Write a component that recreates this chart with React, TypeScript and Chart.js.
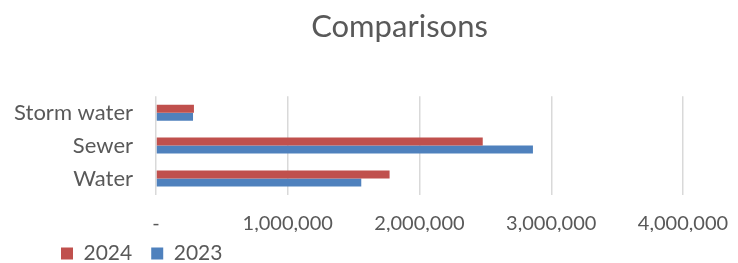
import React, { useEffect, useRef } from "react";
import { Chart, registerables } from "chart.js";

Chart.register(...registerables);

const categories = ["Storm water", "Sewer", "Water"];
const series2024 = [288000, 2480000, 1773000];
const series2023 = [281000, 2861000, 1558000];
const seriesNames = ["2024", "2023"];
const xTicks = [0, 1000000, 2000000, 3000000, 4000000];

const TEXT = "#595959";
const FONT = "Lato";

const boxShift = {
  id: "boxShift",
  beforeLayout(chart: any, _args: any, opts: any) {
    const lg = chart.legend;
    if (lg && !lg._fitPatched) {
      const orig = lg.fit.bind(lg);
      lg.fit = function () {
        orig();
        this.height = opts.legendHeight;
      };
      lg._fitPatched = true;
    }
  },
  afterLayout(chart: any, _args: any, opts: any) {
    const lg = chart.legend;
    if (lg) {
      const dx = opts.legendDx || 0;
      const dy = opts.legendDy || 0;
      lg.left += dx;
      lg.right += dx;
      lg.top += dy;
      lg.bottom += dy + 40;
    }
    const tt = chart.titleBlock;
    if (tt) {
      const tdx = opts.titleDx || 0;
      tt.left += tdx;
      tt.right += tdx;
    }
  },
};

export default function App() {
  const ref = useRef<HTMLCanvasElement | null>(null);
  useEffect(() => {
    if (!ref.current) return;
    const chart = new Chart(ref.current, {
      type: "bar",
      data: {
        labels: categories,
        datasets: [
          {
            label: seriesNames[0],
            data: series2024,
            backgroundColor: "#C0504D",
            categoryPercentage: 0.485,
            barPercentage: 1,
          },
          {
            label: seriesNames[1],
            data: series2023,
            backgroundColor: "#4F81BD",
            categoryPercentage: 0.485,
            barPercentage: 1,
          },
        ],
      },
      plugins: [boxShift],
      options: {
        indexAxis: "y",
        animation: false,
        responsive: false,
        maintainAspectRatio: false,
        layout: { padding: { left: 0, right: 55, top: 0, bottom: 0 } },
        plugins: {
          title: {
            display: true,
            text: "Comparisons",
            color: TEXT,
            font: { family: FONT, size: 31, weight: "normal", lineHeight: 1.2 },
            padding: { top: 8, bottom: 51 },
          },
          legend: {
            display: true,
            position: "bottom",
            align: "start",
            labels: {
              color: TEXT,
              font: { family: FONT, size: 21 },
              boxWidth: 12,
              boxHeight: 12,
              padding: 19,
            },
          },
          boxShift: { legendDx: 42, legendDy: -8, titleDx: 58, legendHeight: 31 },
          tooltip: { enabled: false },
        } as any,
        scales: {
          x: {
            min: 0,
            max: 4000000,
            afterBuildTicks: (scale: any) => {
              scale.ticks = xTicks.map((v) => ({ value: v }));
            },
            afterFit: (scale: any) => {
              scale.height = 37;
            },
            grid: {
              color: "#d9d9d9",
              lineWidth: 1.5,
              drawTicks: true,
              tickLength: 19,
              tickColor: "rgba(0,0,0,0)",
            },
            border: { display: false },
            ticks: {
              color: TEXT,
              font: { family: FONT, size: 20, lineHeight: 1 },
              padding: 0,
              maxRotation: 0,
              autoSkip: false,
              callback: (v: any) => (Number(v) === 0 ? "-" : Number(v).toLocaleString("en-US")),
            },
          },
          y: {
            grid: { display: false },
            border: { display: false },
            afterFit: (scale: any) => {
              scale.width = 156;
            },
            ticks: {
              color: TEXT,
              font: { family: FONT, size: 22, lineHeight: 1 },
              padding: 15,
              autoSkip: false,
            },
          },
        },
      },
    });
    return () => chart.destroy();
  }, []);
  return (
    <div style={{ position: "absolute", left: 0, top: 0, width: 738, height: 263 }}>
      <canvas ref={ref} width={738} height={263} style={{ width: 738, height: 263 }} />
    </div>
  );
}
